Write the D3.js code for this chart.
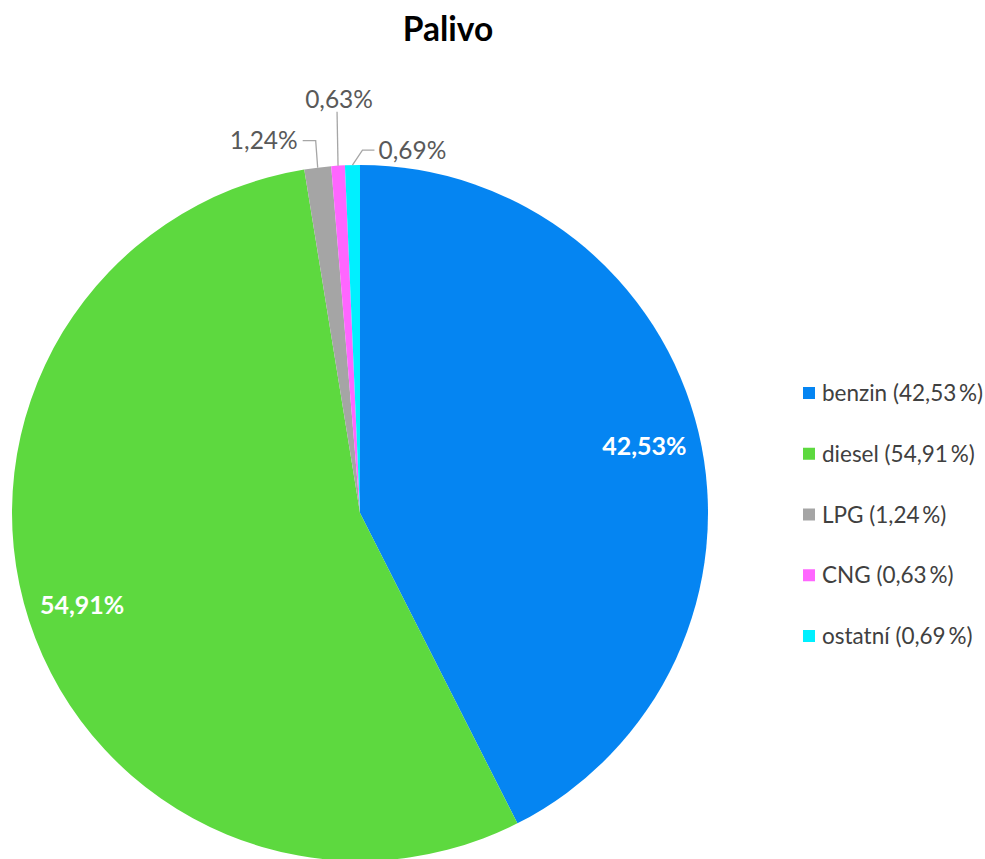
<!DOCTYPE html>
<html>
<head>
<meta charset="utf-8">
<script src="https://cdn.jsdelivr.net/npm/d3@7"></script>
<style>
  html, body { margin: 0; padding: 0; background: #ffffff; }
  svg { display: block; font-family: Lato, "Open Sans", sans-serif; }
</style>
</head>
<body>
<svg id="chart" width="985" height="859"></svg>
<script>
// Fuel types and their shares (%)
const categories = ["benzin", "diesel", "LPG", "CNG", "ostatní"];
const shares = [42.53, 54.91, 1.24, 0.63, 0.69];
const colors = ["#0585F2", "#5DD93F", "#A5A5A5", "#FF66FF", "#00F0FF"];

const fmt = v => d3.format(".2f")(v).replace(".", ",");

const svg = d3.select("#chart");
const cx = 360, cy = 513, radius = 348;

svg.append("text")
  .attr("x", 448).attr("y", 41)
  .attr("text-anchor", "middle")
  .attr("font-size", 33.5).attr("font-weight", 700)
  .attr("fill", "#000")
  .text("Palivo");

const data = categories.map((c, i) => ({ name: c, value: shares[i], color: colors[i] }));

const pie = d3.pie().value(d => d.value).sort(null);
const arcs = pie(data);
const arc = d3.arc().innerRadius(0).outerRadius(radius);

const g = svg.append("g").attr("transform", `translate(${cx},${cy})`);

g.selectAll("path.slice")
  .data(arcs)
  .join("path")
  .attr("class", "slice")
  .attr("d", arc)
  .attr("fill", d => d.data.color);

// Large slices: value label inside the slice
const inner = d3.arc().innerRadius(radius * 0.84).outerRadius(radius * 0.84);
g.selectAll("text.inside")
  .data(arcs.filter(d => d.data.value > 10))
  .join("text")
  .attr("class", "inside")
  .attr("transform", d => `translate(${inner.centroid(d)})`)
  .attr("text-anchor", "middle")
  .attr("dy", "0.4em")
  .attr("font-size", 25).attr("font-weight", 700)
  .attr("fill", "#fff")
  .text(d => fmt(d.data.value) + "%");

// Small slices: label outside with a leader line (offsets relative to the arc edge)
const outerPt = d3.arc().innerRadius(radius).outerRadius(radius);
const callouts = {
  "LPG":     { label: [-20, -26], elbow: [-2, -27], anchor: "end" },
  "CNG":     { label: [1, -66], elbow: [-1, -54], anchor: "middle" },
  "ostatní": { label: [26, -15], elbow: [10, -15], anchor: "start" }
};
arcs.filter(d => d.data.value < 10).forEach(d => {
  const [ex, ey] = outerPt.centroid(d);
  const c = callouts[d.data.name];
  const lx = ex + c.label[0], ly = ey + c.label[1];
  const bx = ex + c.elbow[0], by = ey + c.elbow[1];
  let pts;
  if (c.anchor === "middle") pts = [[ex, ey], [bx, by]];
  else pts = [[ex, ey], [bx, by], [c.anchor === "end" ? lx + 5 : lx - 4, by]];
  g.append("path")
    .attr("d", d3.line()(pts))
    .attr("fill", "none")
    .attr("stroke", "#A6A6A6")
    .attr("stroke-width", 1.3);
  g.append("text")
    .attr("x", lx).attr("y", c.anchor === "middle" ? ly : by)
    .attr("dy", "0.35em")
    .attr("text-anchor", c.anchor)
    .attr("font-size", 24.5)
    .attr("fill", "#595959")
    .text(fmt(d.data.value) + "%");
});

// Legend
const legend = svg.append("g").attr("transform", "translate(803,0)");
const legendY = d3.scalePoint().domain(categories).range([393, 636]);
const rows = legend.selectAll("g.row")
  .data(data)
  .join("g")
  .attr("class", "row")
  .attr("transform", d => `translate(0,${legendY(d.name)})`);
rows.append("rect")
  .attr("x", 0).attr("y", -6)
  .attr("width", 12).attr("height", 12)
  .attr("fill", d => d.color);
rows.append("text")
  .attr("x", 19).attr("dy", "0.36em")
  .attr("font-size", 22.5)
  .attr("fill", "#404040")
  .text(d => `${d.name} (${fmt(d.value)}\u2009%)`);
</script>
</body>
</html>
